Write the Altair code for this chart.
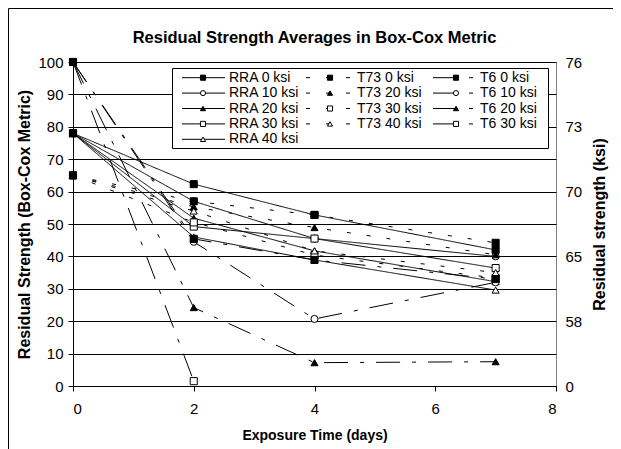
import altair as alt
import pandas as pd

# ---- data ----
days = [0, 2, 4, 7]
rra_0 = [78, 62.3, 52.8, 42.0]
rra_10 = [78, 57.0, 45.5, 40.0]
rra_20 = [78, 51.8, 41.7, 32.2]
rra_30 = [78, 49.2, 45.5, 36.4]
rra_40 = [78, 46.0, 38.9, 29.6]
t73_0 = [65, 57.0, 52.8, 44.2]
t73_20 = [65, 55.3, 48.9, 40.5]
t73_30 = [65, 50.5, 40.4, 33.3]
t73_40 = [65, 54.0, 41.7, 35.0]
t6_0 = [100, 45.4, 38.9, 33.0]
t6_10 = [100, 44.5, 20.7, 32.0]
t6_20 = [100, 24.2, 7.2, 7.5]
t6_30 = [100, 1.5, None, None]

series_names = ["RRA 0 ksi", "RRA 10 ksi", "RRA 20 ksi", "RRA 30 ksi", "RRA 40 ksi",
                "T73 0 ksi", "T73 20 ksi", "T73 30 ksi", "T73 40 ksi",
                "T6 0 ksi", "T6 10 ksi", "T6 20 ksi", "T6 30 ksi"]
series_values = [rra_0, rra_10, rra_20, rra_30, rra_40,
                 t73_0, t73_20, t73_30, t73_40,
                 t6_0, t6_10, t6_20, t6_30]
series_groups = ["RRA"] * 5 + ["T73"] * 4 + ["T6"] * 4
series_shapes = ["square", "circle", "triangle-up", "square", "triangle-up",
                 "square", "triangle-up", "square", "triangle-up",
                 "square", "circle", "triangle-up", "square"]
series_fills = ["black", "white", "black", "white", "white",
                "black", "black", "white", "white",
                "black", "white", "black", "white"]
legend_cols = [0] * 5 + [1] * 4 + [2] * 4
legend_rows = [0, 1, 2, 3, 4, 0, 1, 2, 3, 0, 1, 2, 3]
right_ticks = [0, 20, 40, 60, 80, 100]
right_labels = ["0", "58", "65", "70", "73", "76"]

rows = []
for name, vals, grp in zip(series_names, series_values, series_groups):
    z = 1 if name.split()[1] == "0" else 0
    for d, v in zip(days, vals):
        if v is not None:
            rows.append({"series": name, "group": grp, "day": d, "value": v, "z": z})
df = pd.DataFrame(rows)

# legend table (positions in pixels relative to plot origin)
col_line = [(109, 152), (233, 281), (360, 404)]
col_mark = [130, 257, 383]
col_text = [156, 284, 407]
leg = pd.DataFrame({
    "series": series_names,
    "group": series_groups,
    "col": legend_cols,
    "row": legend_rows,
})
leg["lx1"] = [col_line[c][0] for c in leg["col"]]
leg["lx2"] = [col_line[c][1] for c in leg["col"]]
leg["mx"] = [col_mark[c] for c in leg["col"]]
leg["tx"] = [col_text[c] for c in leg["col"]]
leg["ly"] = [15.7 + r * 15.4 for r in leg["row"]]

FONT = "Liberation Sans"
dash_scale = alt.Scale(domain=["RRA", "T73", "T6"], range=[[1, 0], [4, 16], [24, 12, 4, 12]])
shape_scale = alt.Scale(domain=series_names, range=series_shapes)
fill_scale = alt.Scale(domain=series_names, range=series_fills)
yscale = alt.Scale(domain=[0, 100], nice=False)
xscale = alt.Scale(domain=[0, 8], nice=False)

base = alt.Chart(df)

y_left = alt.Y("value:Q", scale=yscale,
               axis=alt.Axis(values=list(range(0, 101, 10)), grid=True, gridColor="black",
                             gridOpacity=1, tickSize=5, labelPadding=5,
                             title="Residual Strength (Box-Cox Metric)", titlePadding=5,
                             titleFontSize=16))
x_ax = alt.X("day:Q", scale=xscale,
             axis=alt.Axis(values=[0, 2, 4, 6, 8], format="d", grid=False, tickSize=5,
                           labelPadding=10, title="Exposure Time (days)", titlePadding=12,
                           titleFontSize=14))

lines = base.mark_line(color="black", strokeWidth=1).encode(
    x=x_ax, y=y_left, detail="series:N",
    strokeDash=alt.StrokeDash("group:N", scale=dash_scale, legend=None),
    order="day:Q",
)
points = base.mark_point(filled=True, stroke="black", strokeWidth=1, opacity=1, size=50).encode(
    x=x_ax, y=y_left,
    shape=alt.Shape("series:N", scale=shape_scale, legend=None),
    fill=alt.Fill("series:N", scale=fill_scale, legend=None),
    order="z:Q",
)
data_layer = alt.layer(lines, points)

label_expr = " : ".join(
    f"datum.value == {v} ? '{l}'" for v, l in zip(right_ticks, right_labels)
) + " : ''"
right_axis = base.mark_point(opacity=0).encode(
    x=alt.X("day:Q", scale=xscale),
    y=alt.Y("value:Q", scale=yscale,
            axis=alt.Axis(orient="right", values=right_ticks, labelExpr=label_expr,
                          grid=False, domain=False, ticks=False, labelPadding=9,
                          title="Residual strength (ksi)", titleAngle=270, titlePadding=26,
                          titleFontSize=16)),
)

lbase = alt.Chart(leg)
leg_box = lbase.mark_rect(fill="white", stroke="black", strokeWidth=1).encode(
    x=alt.value(99.5), x2=alt.value(475.5), y=alt.value(6.5), y2=alt.value(86.5)
).transform_filter("datum.col == 0 && datum.row == 0")
leg_lines = lbase.mark_rule(color="black", strokeWidth=1).encode(
    x=alt.X("lx1:Q", scale=None), x2="lx2:Q",
    y=alt.Y("ly:Q", scale=None),
    strokeDash=alt.StrokeDash("group:N", scale=dash_scale, legend=None),
)
leg_marks = lbase.mark_point(filled=True, stroke="black", strokeWidth=1, opacity=1, size=26).encode(
    x=alt.X("mx:Q", scale=None), y=alt.Y("ly:Q", scale=None),
    shape=alt.Shape("series:N", scale=shape_scale, legend=None),
    fill=alt.Fill("series:N", scale=fill_scale, legend=None),
)
leg_text = lbase.mark_text(align="left", baseline="middle", font=FONT, fontSize=14,
                           color="black").encode(
    x=alt.X("tx:Q", scale=None), y=alt.Y("ly:Q", scale=None), text="series:N",
)
frame = lbase.mark_rect(fill=None, stroke="black", strokeWidth=1).encode(
    x=alt.value(-64.5), x2=alt.value(700), y=alt.value(-53.5), y2=alt.value(700)
).transform_filter("datum.col == 0 && datum.row == 0")

chart = alt.layer(
    frame, data_layer, right_axis, leg_box, leg_lines, leg_marks, leg_text
).resolve_scale(y="independent").properties(
    width=483, height=324,
    padding={"left": 65, "top": 54, "right": 57, "bottom": 63},
    autosize=alt.AutoSizeParams(type="none"),
    title=alt.TitleParams("Residual Strength Averages in Box-Cox Metric", font=FONT,
                          fontSize=16.5, fontWeight="bold", anchor="middle", offset=0,
                          dy=38, frame="group", color="black"),
).configure_view(
    stroke="#808080", strokeWidth=1
).configure_axis(
    labelFont=FONT, labelFontSize=15, labelColor="black",
    titleFont=FONT, titleFontWeight="bold", titleColor="black",
    domainColor="black", tickColor="black", domainWidth=1, tickWidth=1,
)

chart.save("out.html", embed_options={"renderer": "svg", "actions": False})
